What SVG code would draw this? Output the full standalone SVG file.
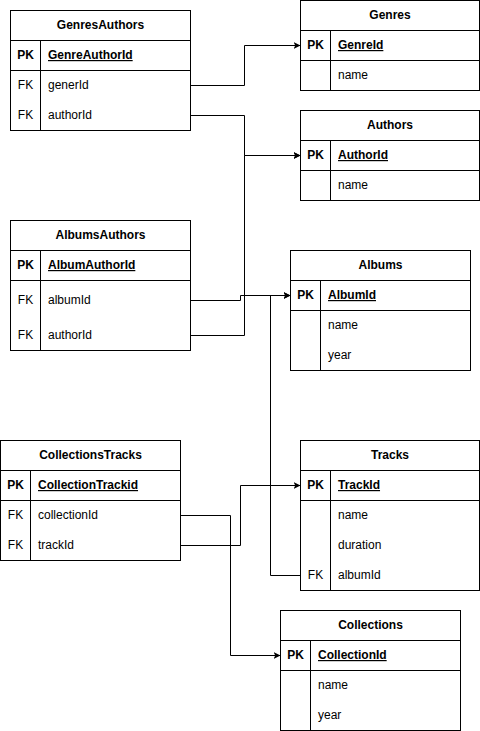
<svg xmlns="http://www.w3.org/2000/svg" width="480" height="731" viewBox="0 0 480 731">
<defs>
<style>
.box{fill:#ffffff;stroke:#000000;stroke-width:1}
.ln{stroke:#000000;stroke-width:1;fill:none}
.t{font-family:"Liberation Sans",Arial,sans-serif;font-size:12px;fill:#000000}
.h{font-weight:bold;text-anchor:middle}
.k{text-anchor:middle}
.kb{font-weight:bold;text-anchor:middle}
.pk{font-weight:bold;text-decoration:underline}
.edge{stroke:#000000;stroke-width:1;fill:none;marker-end:url(#arr)}
</style>
<marker id="arr" viewBox="0 0 7 7" refX="7" refY="3.5" markerWidth="7" markerHeight="7" markerUnits="userSpaceOnUse" orient="auto">
<path d="M0,0 L7,3.5 L0,7 L1.75,3.5 Z" fill="#000000"/>
</marker>
</defs>
<rect width="480" height="731" fill="#ffffff"/>

<g id="connectors">
<path class="edge" d="M190.5,85.5 H244.5 V45.5 H300.5"/>
<path class="edge" d="M190.5,115.5 H244.5 V155.5 H300.5"/>
<path class="edge" d="M190.5,335.5 H244.5 V155.5 H300.5"/>
<path class="edge" d="M190.5,300.5 H240.5 V295.5 H290.5"/>
<path class="edge" d="M300.5,575.5 H270.5 V295.5 H290.5"/>
<path class="edge" d="M180.5,545.5 H240.5 V485.5 H300.5"/>
<path class="edge" d="M180.5,515.5 H230.5 V655.5 H280.5"/>
</g>

<g id="GenresAuthors">
<rect class="box" x="10.5" y="10.5" width="180" height="120"/>
<path class="ln" d="M10.5,40.5 H190.5 M10.5,70.5 H190.5 M40.5,40.5 V130.5"/>
<text class="t h" x="100.5" y="29">GenresAuthors</text>
<text class="t kb" x="25.5" y="59">PK</text>
<text class="t pk" x="48" y="59">GenreAuthorId</text>
<text class="t k" x="25.5" y="89">FK</text>
<text class="t" x="48" y="89">generId</text>
<text class="t k" x="25.5" y="119">FK</text>
<text class="t" x="48" y="119">authorId</text>
</g>

<g id="Genres">
<rect class="box" x="300.5" y="0.5" width="179" height="90"/>
<path class="ln" d="M300.5,30.5 H479.5 M300.5,60.5 H479.5 M330.5,30.5 V90.5"/>
<text class="t h" x="390" y="19">Genres</text>
<text class="t kb" x="315.5" y="49">PK</text>
<text class="t pk" x="338" y="49">GenreId</text>
<text class="t" x="338" y="79">name</text>
</g>

<g id="Authors">
<rect class="box" x="300.5" y="110.5" width="179" height="90"/>
<path class="ln" d="M300.5,140.5 H479.5 M300.5,170.5 H479.5 M330.5,140.5 V200.5"/>
<text class="t h" x="390" y="129">Authors</text>
<text class="t kb" x="315.5" y="159">PK</text>
<text class="t pk" x="338" y="159">AuthorId</text>
<text class="t" x="338" y="189">name</text>
</g>

<g id="AlbumsAuthors">
<rect class="box" x="10.5" y="220.5" width="180" height="130"/>
<path class="ln" d="M10.5,250.5 H190.5 M10.5,280.5 H190.5 M40.5,250.5 V350.5"/>
<text class="t h" x="100.5" y="239">AlbumsAuthors</text>
<text class="t kb" x="25.5" y="269">PK</text>
<text class="t pk" x="48" y="269">AlbumAuthorId</text>
<text class="t k" x="25.5" y="304">FK</text>
<text class="t" x="48" y="304">albumId</text>
<text class="t k" x="25.5" y="339">FK</text>
<text class="t" x="48" y="339">authorId</text>
</g>

<g id="Albums">
<rect class="box" x="290.5" y="250.5" width="180" height="120"/>
<path class="ln" d="M290.5,280.5 H470.5 M290.5,310.5 H470.5 M320.5,280.5 V370.5"/>
<text class="t h" x="380.5" y="269">Albums</text>
<text class="t kb" x="305.5" y="299">PK</text>
<text class="t pk" x="328" y="299">AlbumId</text>
<text class="t" x="328" y="329">name</text>
<text class="t" x="328" y="359">year</text>
</g>

<g id="CollectionsTracks">
<rect class="box" x="0.5" y="440.5" width="180" height="120"/>
<path class="ln" d="M0.5,470.5 H180.5 M0.5,500.5 H180.5 M30.5,470.5 V560.5"/>
<text class="t h" x="90.5" y="459">CollectionsTracks</text>
<text class="t kb" x="15.5" y="489">PK</text>
<text class="t pk" x="38" y="489">CollectionTrackid</text>
<text class="t k" x="15.5" y="519">FK</text>
<text class="t" x="38" y="519">collectionId</text>
<text class="t k" x="15.5" y="549">FK</text>
<text class="t" x="38" y="549">trackId</text>
</g>

<g id="Tracks">
<rect class="box" x="300.5" y="440.5" width="179" height="150"/>
<path class="ln" d="M300.5,470.5 H479.5 M300.5,500.5 H479.5 M330.5,470.5 V590.5"/>
<text class="t h" x="390" y="459">Tracks</text>
<text class="t kb" x="315.5" y="489">PK</text>
<text class="t pk" x="338" y="489">TrackId</text>
<text class="t" x="338" y="519">name</text>
<text class="t" x="338" y="549">duration</text>
<text class="t k" x="315.5" y="579">FK</text>
<text class="t" x="338" y="579">albumId</text>
</g>

<g id="Collections">
<rect class="box" x="280.5" y="610.5" width="180" height="120"/>
<path class="ln" d="M280.5,640.5 H460.5 M280.5,670.5 H460.5 M310.5,640.5 V730.5"/>
<text class="t h" x="370.5" y="629">Collections</text>
<text class="t kb" x="295.5" y="659">PK</text>
<text class="t pk" x="318" y="659">CollectionId</text>
<text class="t" x="318" y="689">name</text>
<text class="t" x="318" y="719">year</text>
</g>
</svg>
